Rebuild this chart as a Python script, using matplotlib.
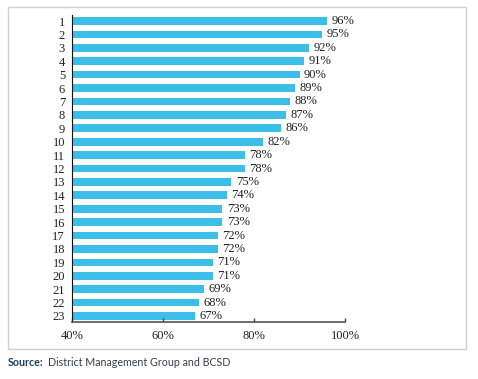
import numpy as np
import matplotlib.pyplot as plt
from matplotlib.patches import Rectangle

# Datos del gráfico
categorias = [str(i) for i in range(1, 24)]
valores = [96, 95, 92, 91, 90, 89, 88, 87, 86, 82, 78, 78,
           75, 74, 73, 73, 72, 72, 71, 71, 69, 68, 67]
etiquetas = [f"{v}%" for v in valores]
ticks_x = [40, 60, 80, 100]

color_barra = '#3BBFE8'
fuente_serif = ['Liberation Serif', 'DejaVu Serif']

fig = plt.figure(figsize=(4.78, 3.79), dpi=100)
ax = fig.add_axes([0.1506, 0.1504, 0.5712, 0.8100])

# Marco exterior gris
fig.patches.append(Rectangle((8 / 478, 1 - 349 / 379), 458 / 478, 342 / 379,
                             transform=fig.transFigure, fill=False,
                             edgecolor='#CFCFCF', linewidth=1.0))

y = np.arange(len(valores))
ax.barh(y, np.array(valores) - 40, left=40, height=0.57, color=color_barra)

for yi, v, txt in zip(y, valores, etiquetas):
    ax.text(v + 1.0, yi, txt, va='center', ha='left', fontsize=9,
            family=fuente_serif, color='#222222')

ax.set_xlim(40, 100)
ax.set_ylim(22.45, -0.45)
ax.set_yticks(y)
ax.set_yticklabels(categorias, family=fuente_serif, fontsize=9, color='#222222')
ax.set_xticks(ticks_x)
ax.set_xticklabels([f"{t}%" for t in ticks_x], family=fuente_serif,
                   fontsize=9, color='#222222')

ax.tick_params(axis='y', length=0, pad=5)
ax.tick_params(axis='x', direction='in', length=3, width=1, color='#444444', pad=6)
for lado in ['top', 'right']:
    ax.spines[lado].set_visible(False)
ax.spines['left'].set_color('#111111')
ax.spines['bottom'].set_color('#555555')
ax.spines['bottom'].set_linewidth(1.2)

# Fuente
t1 = fig.text(8 / 478, 1 - 363 / 379, 'Source:', fontsize=7.7, fontweight='bold',
              color='#1F3F5F', va='center', ha='left', family='Lato')
ax.annotate('District Management Group and BCSD', xy=(1, 0.5), xycoords=t1,
            xytext=(3, 0), textcoords='offset points', fontsize=7.7,
            color='#333F4F', va='center', ha='left', family='Lato',
            annotation_clip=False)

fig.savefig('out.png', dpi=100)
